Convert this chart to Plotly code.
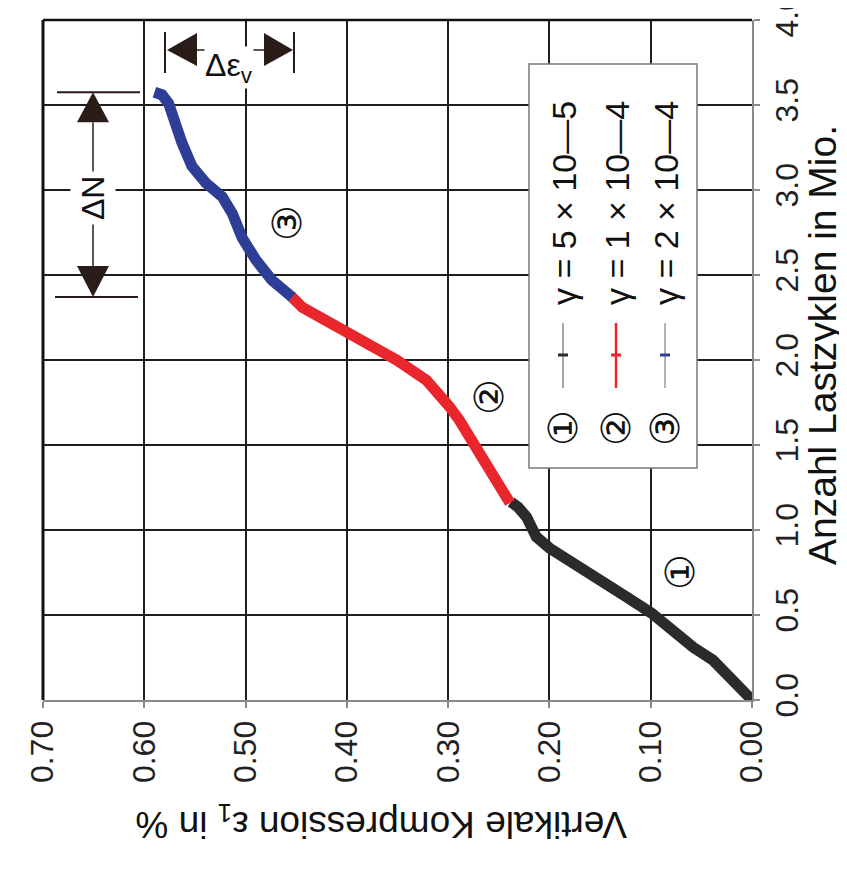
import plotly.graph_objects as go

# ---------------- data ----------------
black_N = [0.00, 0.06, 0.118, 0.18, 0.235, 0.31, 0.41, 0.51, 0.606, 0.706, 0.794, 0.894, 0.96, 1.076, 1.135, 1.165]
black_eps = [0.000, 0.010, 0.019, 0.030, 0.0386, 0.058, 0.078, 0.099, 0.124, 0.150, 0.177, 0.200, 0.213, 0.2225, 0.231, 0.238]

red_N = [1.159, 1.294, 1.50, 1.647, 1.724, 1.882, 2.00, 2.076, 2.159, 2.235, 2.31, 2.375]
red_eps = [0.239, 0.252, 0.274, 0.289, 0.2985, 0.3215, 0.351, 0.375, 0.3975, 0.420, 0.444, 0.455]

blue_N = [2.37, 2.47, 2.59, 2.72, 2.86, 2.96, 3.04, 3.14, 3.28, 3.41, 3.51, 3.56, 3.575]
blue_eps = [0.454, 0.474, 0.490, 0.5035, 0.513, 0.523, 0.539, 0.553, 0.563, 0.569, 0.576, 0.5825, 0.590]

x_ticks = [0.0, 0.1, 0.2, 0.3, 0.4, 0.5, 0.6, 0.7]
y_ticks = [0.0, 0.5, 1.0, 1.5, 2.0, 2.5, 3.0, 3.5, 4.0]

legend_labels = ["γ = 5 × 10—5", "γ = 1 × 10—4", "γ = 2 × 10—4"]
legend_nums = ["①", "②", "③"]

x_title = "Vertikale Kompression ε<sub>1</sub> in %"
y_title = "Anzahl Lastzyklen in Mio."

# ---------------- geometry (screen pixels; page has an 8px body offset) ----------------
OFF = 8
W, H = 847 - OFF, 892 - OFF
L, R, T, B = 43, 752, 20, 700
XMAX, YMAX = 0.7, 4.0

def xp(px):
    return (px - L) / (R - L)

def yp(py):
    return (B - py) / (B - T)

def py_of_N(n):
    return B - n / YMAX * (B - T)

C_BLACK = "#2b2b2b"
C_RED = "#e8262b"
C_BLUE = "#2e3d96"
C_BROWN = "#2a1c18"
FONT = "Liberation Sans, Arial, sans-serif"

fig = go.Figure()
for xs, ys, c in [(black_eps, black_N, C_BLACK), (red_eps, red_N, C_RED), (blue_eps, blue_N, C_BLUE)]:
    fig.add_trace(go.Scatter(x=xs, y=ys, mode="lines",
                             line=dict(color=c, width=11, shape="linear"),
                             showlegend=False, hoverinfo="skip"))

shapes = []
annotations = []

def ann(px_, py_, text, size, angle=0, family=FONT, bg=None, pad=1):
    d = dict(xref="paper", yref="paper", x=xp(px_), y=yp(py_), text=text, textangle=angle,
             xanchor="center", yanchor="middle", showarrow=False,
             font=dict(family=family, size=size, color="#111"), borderpad=pad)
    if bg:
        d["bgcolor"] = bg
    annotations.append(d)

def pline(x0, y0, x1, y1, color, width):
    shapes.append(dict(type="line", xref="paper", yref="paper", x0=xp(x0), x1=xp(x1), y0=yp(y0), y1=yp(y1),
                       line=dict(color=color, width=width), layer="above"))

def tri(pts, color):
    p = " L ".join(f"{xp(a)},{yp(b)}" for a, b in pts)
    shapes.append(dict(type="path", xref="paper", yref="paper", path=f"M {p} Z",
                       fillcolor=color, line=dict(width=0), layer="above"))

# borders (left/top black)
pline(L, T, L, B, "#111", 3)
pline(L, T, R, T, "#111", 2.5)

# ---- ΔN marker spanning the blue segment ----
yb, yt = py_of_N(blue_N[0]), py_of_N(blue_N[-1])
xc = 93
pline(57, yt, 140, yt, C_BROWN, 2)
pline(55, yb, 138, yb, C_BROWN, 2)
tri([(xc, yt), (xc - 16, yt + 30), (xc + 16, yt + 30)], C_BROWN)
tri([(xc, yb), (xc - 16, yb - 31), (xc + 16, yb - 31)], C_BROWN)
pline(xc, yt + 30, xc, yb - 31, C_BROWN, 1.5)
ann(xc, 198, "ΔN", 32, angle=-90, bg="white", pad=4)

# ---- Δε marker ----
ya = 50
for xx in (294, 165):
    pline(xx, 32, xx, 73, C_BROWN, 2)
ann(229, 68, "Δε<sub>v</sub>", 32, bg="white", pad=0)
pline(197, ya, 265, ya, C_BROWN, 1.5)
tri([(167, ya), (197, ya - 17), (197, ya + 16)], C_BROWN)
tri([(293, ya), (264, ya - 17), (264, ya + 16)], C_BROWN)

# ---- circled segment numbers ----
for (px_, py_), t in zip([(680, 572), (489, 397), (287, 223)], legend_nums):
    ann(px_, py_, t, 40, angle=-90, family="DejaVu Sans")

# ---- custom legend (rotated) ----
shapes.append(dict(type="rect", xref="paper", yref="paper", x0=xp(529), x1=xp(697), y0=yp(468), y1=yp(64),
                   fillcolor="white", line=dict(color="#7a7a7a", width=1.5), layer="above"))
cols = [563, 616, 665]
line_cols = ["#8a8a8a", C_RED, "#9a9a9a"]
mark_cols = [C_BLACK, C_RED, C_BLUE]
line_w = [1.5, 2.5, 1.5]
for cx, lab, num, lc, mc, lw in zip(cols, legend_labels, legend_nums, line_cols, mark_cols, line_w):
    pline(cx, 388, cx, 323, lc, lw)
    pline(cx - 5, 355, cx + 5, 355, mc, 3)
    ann(cx, 428, num, 40, angle=-90, family="DejaVu Sans")
    ann(cx + 1, 203, lab, 34, angle=-90)

# ---- axis titles (rotated) ----
ann(381, 822, x_title, 37, angle=180)
ann(822, 345, y_title, 39, angle=-90)

axis_common = dict(tickangle=-90, tickfont=dict(family=FONT, size=32, color="#222"),
                   showgrid=True, gridcolor="#1e1e1e", gridwidth=1.6, zeroline=False,
                   showline=True, linecolor="#8a8a8a", linewidth=2,
                   ticks="outside", ticklen=6, tickcolor="#8a8a8a", tickwidth=2,
                   automargin=False, ticklabeloverflow="allow")

fig.update_layout(
    width=W, height=H,
    margin=dict(l=L - OFF, r=W - (R - OFF), t=T - OFF, b=H - (B - OFF), autoexpand=False),
    paper_bgcolor="white", plot_bgcolor="white",
    shapes=shapes, annotations=annotations,
    showlegend=False,
    xaxis=dict(range=[XMAX, 0.0], tickvals=x_ticks, ticktext=[f"{v:.2f}" for v in x_ticks], **axis_common),
    yaxis=dict(range=[0.0, YMAX], side="right", tickvals=y_ticks, ticktext=[f"{v:.1f}" for v in y_ticks],
               **axis_common),
)

fig.write_html("out.html")
